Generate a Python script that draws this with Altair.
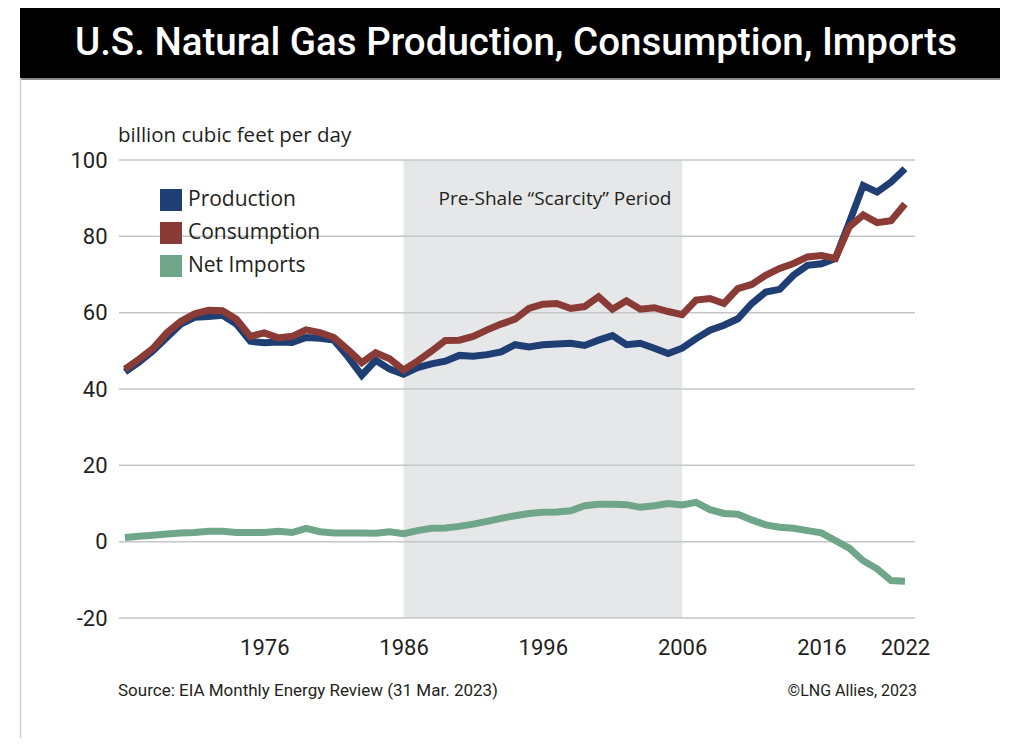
import altair as alt
import pandas as pd

# ---------------- data ----------------
years = list(range(1966, 2023))

production = [44.5, 47.0, 50.0, 53.5, 57.0, 58.8, 59.0, 59.3, 57.0, 52.5,
              52.1, 52.3, 52.2, 53.5, 53.3, 52.8, 48.5, 43.6, 47.5, 45.2,
              43.9, 45.6, 46.6, 47.3, 48.8, 48.6, 49.0, 49.7, 51.6, 51.0,
              51.6, 51.8, 52.0, 51.4, 52.8, 54.0, 51.6, 52.0, 50.7, 49.3,
              50.7, 53.2, 55.4, 56.7, 58.4, 62.4, 65.4, 66.1, 69.8, 72.4,
              72.8, 74.2, 83.6, 93.3, 91.6, 94.2, 97.7]

consumption = [45.2, 47.8, 50.6, 54.7, 57.7, 59.7, 60.6, 60.5, 58.3, 53.8,
               54.7, 53.4, 53.8, 55.5, 54.8, 53.5, 50.3, 46.9, 49.5, 47.9,
               45.0, 47.3, 49.9, 52.7, 52.8, 53.8, 55.5, 57.0, 58.3, 61.1,
               62.2, 62.4, 61.1, 61.6, 64.2, 60.9, 63.1, 60.9, 61.3, 60.3,
               59.5, 63.3, 63.7, 62.4, 66.3, 67.4, 69.8, 71.6, 72.9, 74.6,
               75.0, 74.2, 82.5, 85.6, 83.6, 84.1, 88.5]

net_imports = [1.1, 1.4, 1.7, 2.0, 2.3, 2.4, 2.7, 2.7, 2.4, 2.4,
               2.4, 2.7, 2.4, 3.5, 2.6, 2.3, 2.3, 2.3, 2.2, 2.6,
               2.1, 2.9, 3.5, 3.6, 4.0, 4.6, 5.3, 6.1, 6.8, 7.4,
               7.7, 7.8, 8.1, 9.4, 9.8, 9.8, 9.7, 9.0, 9.4, 10.0,
               9.6, 10.3, 8.4, 7.4, 7.2, 5.7, 4.4, 3.8, 3.5, 2.9,
               2.3, 0.3, -1.7, -5.0, -7.1, -10.2, -10.4]

series_names = ["Production", "Consumption", "Net Imports"]
series_colors = ["#1f3e74", "#8a3b35", "#6fa68a"]

x_ticks = [1976, 1986, 1996, 2006, 2016, 2022]
y_ticks = [-20, 0, 20, 40, 60, 80, 100]

shade_start, shade_end = 1986, 2006

title_text = "U.S. Natural Gas Production, Consumption, Imports"
unit_text = "billion cubic feet per day"
shade_text = "Pre-Shale \u201cScarcity\u201d Period"
source_text = "Source: EIA Monthly Energy Review (31 Mar. 2023)"
credit_text = "\u00a9LNG Allies, 2023"

# ---------------- tables ----------------
long_df = pd.concat([
    pd.DataFrame({"year": years, "value": vals, "series": name})
    for name, vals in zip(series_names, [production, consumption, net_imports])
], ignore_index=True)

W, H = 796, 458
TXT = "#231f20"
NARROW = "Roboto"
SANS = "Open Sans"

xscale = alt.Scale(domain=[1965.57, 2022.72], nice=False, zero=False)
yscale = alt.Scale(domain=[-20, 100], nice=False, zero=False)
cscale = alt.Scale(domain=series_names, range=series_colors)


def one(text):
    return pd.DataFrame({"t": [text]})


banner = alt.Chart(one("")).mark_rect(color="black").encode(
    x=alt.value(-99), x2=alt.value(881), y=alt.value(-152), y2=alt.value(-82))
banner_line = alt.Chart(one("")).mark_rule(color="#8a8a8a", strokeWidth=2).encode(
    x=alt.value(-99), x2=alt.value(881), y=alt.value(-81))
left_border = alt.Chart(one("")).mark_rule(color="#d0d0d0", strokeWidth=1.5).encode(
    x=alt.value(-98.5), y=alt.value(-82), y2=alt.value(578))

title = alt.Chart(one(title_text)).mark_text(
    font=NARROW, fontSize=38.5, fontWeight=500, color="white", align="center",
    baseline="middle").encode(text="t:N", x=alt.value(397), y=alt.value(-117))

unit = alt.Chart(one(unit_text)).mark_text(
    font=SANS, fontSize=20.5, color=TXT, align="left", baseline="middle").encode(
    text="t:N", x=alt.value(-1), y=alt.value(-24))

source = alt.Chart(one(source_text)).mark_text(
    font=NARROW, fontSize=17, color=TXT, align="left", baseline="middle").encode(
    text="t:N", x=alt.value(-1), y=alt.value(531))
credit = alt.Chart(one(credit_text)).mark_text(
    font=NARROW, fontSize=16, color=TXT, align="right", baseline="middle").encode(
    text="t:N", x=alt.value(798), y=alt.value(531))

shade = alt.Chart(pd.DataFrame({"s": [shade_start], "e": [shade_end]})).mark_rect(
    color="#e6e7e9").encode(
    x=alt.X("s:Q", scale=xscale), x2="e:Q", y=alt.value(0), y2=alt.value(H))

shade_label = alt.Chart(one(shade_text)).mark_text(
    font=SANS, fontSize=19, color=TXT, align="center", baseline="middle").encode(
    text="t:N", x=alt.value(436), y=alt.value(39))

grid = alt.Chart(pd.DataFrame({"v": y_ticks})).mark_rule(
    color="#c6c6c6", strokeWidth=1.5).encode(
    y=alt.Y("v:Q", scale=yscale,
            axis=alt.Axis(values=y_ticks, title=None, domain=False, ticks=False,
                          grid=False, labelFont=NARROW, labelFontSize=22,
                          labelColor=TXT, labelPadding=12,
                          labelExpr="'' + datum.value")),
    x=alt.value(0), x2=alt.value(W))

legend = alt.Legend(orient="none", legendX=41, legendY=29, title=None,
                    symbolType="M-1,-1H1V1H-1Z", symbolSize=100,
                    symbolStrokeWidth=12, labelFont=SANS, labelFontSize=21,
                    labelColor=TXT, labelOffset=6, rowPadding=11,
                    clipHeight=22, labelLimit=300)

base = alt.Chart(long_df)


def line(name):
    return base.transform_filter(alt.datum.series == name).mark_line(
        strokeWidth=7, strokeJoin="miter").encode(
        x=alt.X("year:Q", scale=xscale,
                axis=alt.Axis(values=x_ticks, format="d", title=None, domain=False,
                              ticks=False, grid=False, labelFont=NARROW,
                              labelFontSize=22, labelColor=TXT, labelPadding=19)),
        y=alt.Y("value:Q", scale=yscale),
        color=alt.Color("series:N", scale=cscale, legend=legend))


chart = alt.layer(
    banner, banner_line, left_border, title, unit, source, credit,
    shade, grid, shade_label,
    line("Production"), line("Consumption"), line("Net Imports"),
).properties(
    width=W, height=H,
    autosize=alt.AutoSizeParams(type="none"),
    padding={"left": 111, "top": 152, "right": 91, "bottom": 120},
    background="white",
).configure_view(stroke=None)

chart.save("out.html", embed_options={"renderer": "svg", "actions": False})
